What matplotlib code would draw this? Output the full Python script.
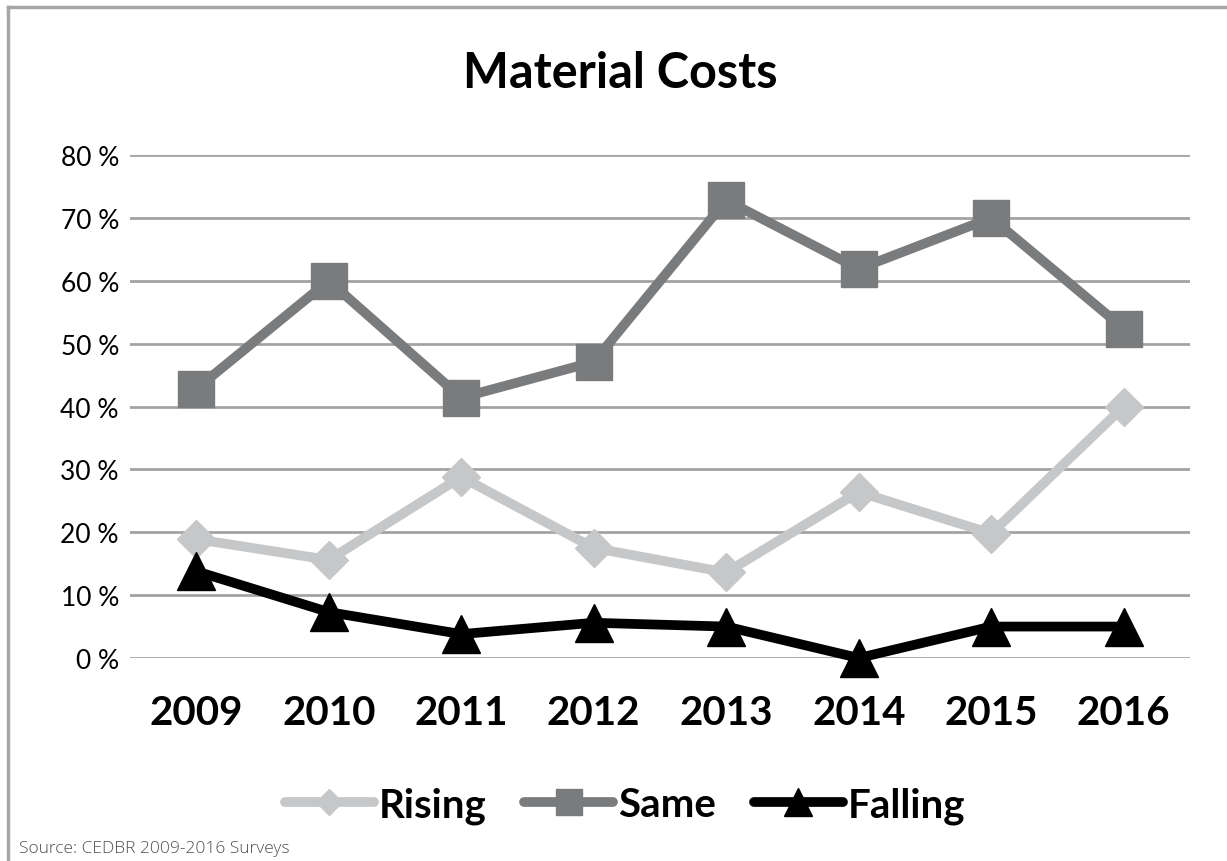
import matplotlib
matplotlib.use('Agg')
import matplotlib.pyplot as plt
from matplotlib.lines import Line2D

# Survey years and share of answers (%)
years = ['2009', '2010', '2011', '2012', '2013', '2014', '2015', '2016']
rising = [18.9, 15.6, 28.8, 17.5, 13.6, 26.4, 19.8, 40.0]
same = [42.8, 60.0, 41.4, 47.1, 72.8, 61.9, 70.0, 52.4]
falling = [13.8, 7.3, 3.8, 5.6, 5.0, 0.0, 5.0, 5.0]
y_ticks = [0, 10, 20, 30, 40, 50, 60, 70, 80]

plt.rcParams['font.family'] = ['Lato', 'DejaVu Sans']

W, H = 1227, 862
fig = plt.figure(figsize=(W / 100, H / 100), dpi=100)

# plot area in pixel terms
left, right, top, bottom = 130, 1190, 156, 659
ax = fig.add_axes([left / W, 1 - bottom / H, (right - left) / W, (bottom - top) / H])

x = list(range(len(years)))
ax.plot(x, rising, color='#C6C7C8', lw=7, marker='D', ms=19, label='Rising',
        solid_capstyle='round', clip_on=False, zorder=3)
ax.plot(x, same, color='#7A7B7D', lw=7, marker='s', ms=26, label='Same',
        solid_capstyle='round', clip_on=False, zorder=3)
ax.plot(x, falling, color='#000000', lw=7, marker='^', ms=28, label='Falling',
        solid_capstyle='round', clip_on=False, zorder=4)

ax.set_xlim(-0.5, len(years) - 0.5)
ax.set_ylim(0, 80)
ax.set_yticks(y_ticks)
ax.set_yticklabels([f'{v} %' for v in y_ticks], fontsize=19)
ax.set_xticks(x)
ax.set_xticklabels(years, fontsize=29, fontweight='bold')
ax.tick_params(axis='both', length=0)
ax.tick_params(axis='y', pad=8)
ax.tick_params(axis='x', pad=26)
ax.grid(axis='y', color='#A3A3A3', lw=2)
ax.set_axisbelow(True)
for s in ax.spines.values():
    s.set_visible(False)

fig.text(620 / W, 1 - 74 / H, 'Material Costs', ha='center', va='center',
         fontsize=35, fontweight='bold')

leg = fig.legend(loc='center', bbox_to_anchor=(625 / W, 1 - 806 / H), ncol=3,
                 frameon=False, handlelength=2.2, handletextpad=0.12,
                 columnspacing=0.95, markerscale=0.72,
                 prop={'size': 29, 'weight': 'bold'})

fig.text(19 / W, 1 - 849 / H, 'Source: CEDBR 2009-2016 Surveys', ha='left', va='center',
         fontsize=12.5, fontweight='light', color='#505050',
         family=['Open Sans', 'DejaVu Sans'])

# outer chart frame (only top and left edges fall inside the picture)
fig.add_artist(Line2D([8 / W, 1], [1 - 8 / H, 1 - 8 / H], color='#A6A6A6', lw=2.5,
                      transform=fig.transFigure))
fig.add_artist(Line2D([8 / W, 8 / W], [0, 1 - 8 / H], color='#A6A6A6', lw=2.5,
                      transform=fig.transFigure))

plt.savefig('out.png', dpi=100)
